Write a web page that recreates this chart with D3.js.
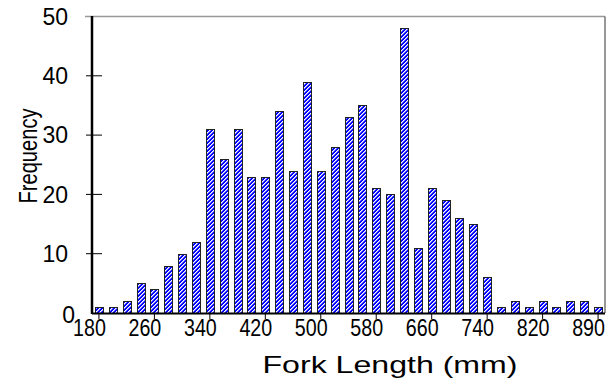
<!DOCTYPE html>
<html>
<head>
<meta charset="utf-8">
<script src="https://cdn.jsdelivr.net/npm/d3@7"></script>
<style>
  body { margin: 0; background: #fff; }
  text { font-family: "Liberation Sans", Arial, Helvetica, sans-serif; fill: #000; }
</style>
</head>
<body>
<div class="chart"></div>
<script>
// Data
let bins = ["180", "200", "220", "240", "260", "280", "300", "320", "340", "360",
    "380", "400", "420", "440", "460", "480", "500", "520", "540", "560",
    "580", "600", "620", "640", "660", "680", "700", "720", "740", "760",
    "780", "800", "820", "840", "860", "880", "890"];
let counts = [1, 1, 2, 5, 4, 8, 10, 12, 31, 26,
    31, 23, 23, 34, 24, 39, 24, 28, 33, 35,
    21, 20, 48, 11, 21, 19, 16, 15, 6, 1,
    2, 1, 2, 1, 2, 2, 1];
let xTickLabels = ["180", "260", "340", "420", "500", "580", "660", "740", "820", "890"];
let yTicks = [0, 10, 20, 30, 40, 50];

let svgWidth = 609;
let svgHeight = 379;

let plot = { left: 92, right: 605, top: 16.5, bottom: 313 };

let svg = d3.select(".chart")
    .append("svg")
    .attr("width", svgWidth)
    .attr("height", svgHeight);

// Hatch pattern: blue with white "/" stripes, pixel staircase so it stays crisp
let defs = svg.append("defs");
let pat = defs.append("pattern")
    .attr("id", "hatch")
    .attr("patternUnits", "userSpaceOnUse")
    .attr("width", 4)
    .attr("height", 4);
pat.append("rect").attr("width", 4).attr("height", 4).attr("fill", "#0000ff");
d3.range(4).forEach(function(r) {
    [(3 - r), (4 - r) % 4].forEach(function(c, k) {
        pat.append("rect")
            .attr("x", c).attr("y", r)
            .attr("width", 1).attr("height", 1)
            .attr("fill", k === 0 ? "#fff" : "#9090ff")
            .attr("shape-rendering", "crispEdges");
    });
});

let x = d3.scaleBand()
    .domain(bins)
    .range([plot.left, plot.right])
    .padding(0);

let y = d3.scaleLinear()
    .domain([0, 50])
    .range([plot.bottom, plot.top]);

let barW = 8;

// Frame: gray top, dark right
svg.append("line")
    .attr("x1", 85).attr("x2", plot.right)
    .attr("y1", y(50)).attr("y2", y(50))
    .attr("stroke", "#999").attr("stroke-width", 1.5);
svg.append("line")
    .attr("x1", plot.right).attr("x2", plot.right)
    .attr("y1", y(50)).attr("y2", plot.bottom)
    .attr("stroke", "#333").attr("stroke-width", 1);

// Bars
svg.append("g")
    .selectAll("rect")
    .data(counts)
    .enter()
    .append("rect")
    .attr("x", (d, i) => Math.round(x(bins[i]) + (x.bandwidth() - barW) / 2) + 0.5)
    .attr("y", d => Math.round(y(d)) + 0.5)
    .attr("width", barW)
    .attr("height", d => Math.round(y(0)) - Math.round(y(d)))
    .attr("fill", "url(#hatch)")
    .attr("stroke", "#222")
    .attr("stroke-width", 1);

// Y axis
svg.append("line")
    .attr("x1", plot.left).attr("x2", plot.left)
    .attr("y1", y(50) - 0.5).attr("y2", plot.bottom + 1)
    .attr("stroke", "#000").attr("stroke-width", 2.5);

svg.append("g")
    .selectAll("line")
    .data(yTicks.filter(d => d > 0 && d < 50))
    .enter()
    .append("line")
    .attr("x1", 86).attr("x2", 102)
    .attr("y1", d => y(d)).attr("y2", d => y(d))
    .attr("stroke", "#000").attr("stroke-width", 1);

svg.append("g")
    .selectAll("text")
    .data(yTicks)
    .enter()
    .append("text")
    .attr("x", d => d === 0 ? 75 : 68)
    .attr("y", d => d === 0 ? y(d) + 2 : y(d))
    .attr("dy", "0.36em")
    .attr("text-anchor", "end")
    .style("font-size", "23px")
    .text(d => d);

// X axis
svg.append("line")
    .attr("x1", plot.left).attr("x2", plot.right)
    .attr("y1", plot.bottom + 0.5).attr("y2", plot.bottom + 0.5)
    .attr("stroke", "#000").attr("stroke-width", 2);

let xTicks = svg.append("g")
    .selectAll("g")
    .data(xTickLabels)
    .enter()
    .append("g")
    .attr("transform", d => `translate(${x(d) + x.bandwidth() / 2}, ${plot.bottom})`);

xTicks.append("line")
    .attr("y1", 0).attr("y2", 6)
    .attr("stroke", "#000").attr("stroke-width", 1);

xTicks.append("text")
    .attr("transform", "translate(-9.5, 22.5) scale(0.82, 1)")
    .attr("text-anchor", "middle")
    .style("font-size", "24px")
    .text(d => d);

// Axis titles
svg.append("text")
    .attr("x", 390)
    .attr("y", 373)
    .attr("text-anchor", "middle")
    .attr("textLength", 255)
    .attr("lengthAdjust", "spacingAndGlyphs")
    .style("font-size", "24px")
    .text("Fork Length (mm)");

svg.append("text")
    .attr("transform", "translate(37, 156) rotate(-90)")
    .attr("text-anchor", "middle")
    .attr("textLength", 95)
    .attr("lengthAdjust", "spacingAndGlyphs")
    .style("font-size", "26px")
    .text("Frequency");
</script>
</body>
</html>
